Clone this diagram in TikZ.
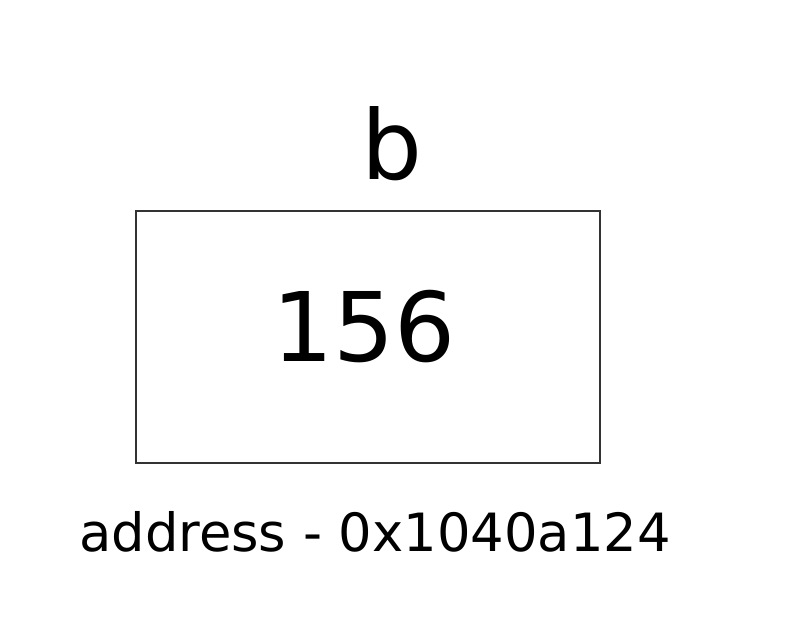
\documentclass[tikz,border=0pt]{standalone}
\usepackage{fontspec}
\setmainfont{DejaVu Sans}
\usetikzlibrary{positioning}
\tikzset{
  var-box/.style={draw=black!80,line width=0.6mm,rectangle,minimum width=139.2mm,minimum height=75.6mm,inner sep=0pt},
  var-name/.style={anchor=base,inner sep=0pt,font=\fontsize{82pt}{90pt}\selectfont},
  var-value/.style={anchor=base,inner sep=0pt,font=\fontsize{82pt}{90pt}\selectfont},
  var-addr/.style={anchor=base,inner sep=0pt,font=\fontsize{45pt}{50pt}\selectfont},
}
\begin{document}
\begin{tikzpicture}[x=0.3mm,y=-0.3mm]

  \useasboundingbox (0,0) rectangle (790,628);

  % variable b
  \node[var-box]   (bbox)  at (368, 337) {};
  \node[var-name]  (bname) at (392, 180) {b};
  \node[var-value] (bval)  at (364, 362) {156};
  \node[var-addr]  (baddr) at (375, 551) {address - 0x1040a124};

\end{tikzpicture}
\end{document}
